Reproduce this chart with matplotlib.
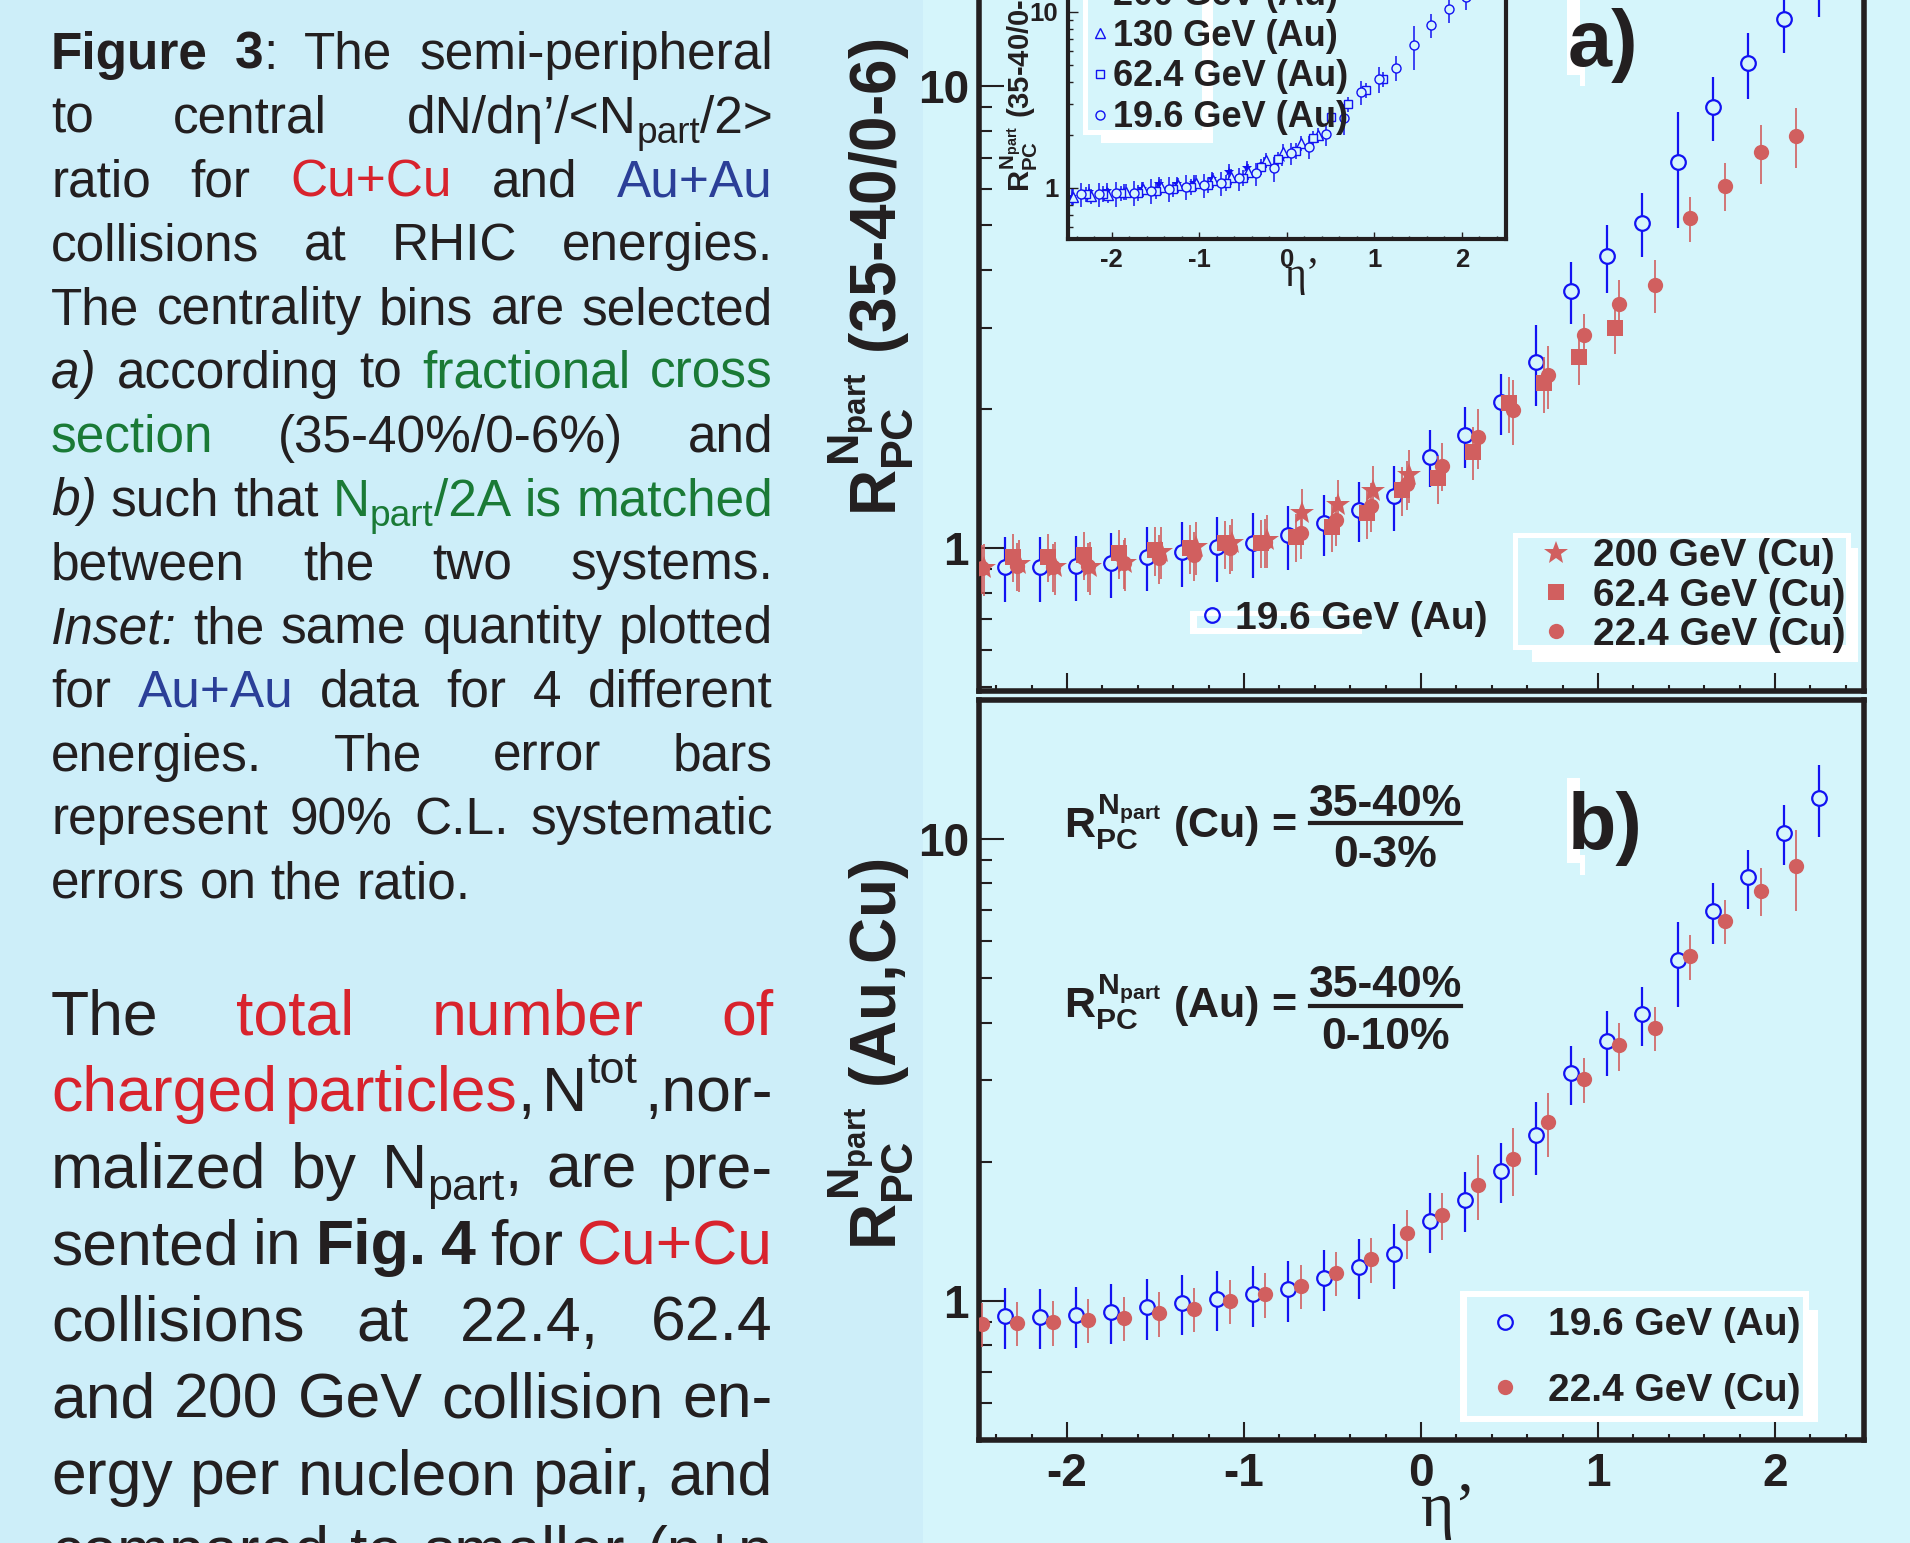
import re
import numpy as np
import matplotlib
matplotlib.use('Agg')
import matplotlib.pyplot as plt
import matplotlib.ticker as mticker
from matplotlib.transforms import Affine2D
from matplotlib.patches import Rectangle
from matplotlib.lines import Line2D

# ------------------------------------------------------------------ data
AU_ETA = [-2.35, -2.15, -1.95, -1.75, -1.55, -1.35, -1.15, -0.95, -0.75, -0.55, -0.35, -0.15,
          0.05, 0.25, 0.45, 0.65, 0.85, 1.05, 1.25, 1.45, 1.65, 1.85, 2.05, 2.25]
CU22_ETA = [-2.48, -2.28, -2.08, -1.88, -1.68, -1.48, -1.28, -1.08, -0.88, -0.68, -0.48, -0.28,
            -0.08, 0.12, 0.32, 0.52, 0.72, 0.92, 1.12, 1.32, 1.52, 1.72, 1.92, 2.12]
CU62_ETA = [-2.305, -2.105, -1.905, -1.705, -1.505, -1.305, -1.105, -0.905, -0.705, -0.505, -0.305,
            -0.105, 0.095, 0.295, 0.495, 0.695, 0.895, 1.095]
CU200_ETA = [-2.47, -2.27, -2.07, -1.87, -1.67, -1.47, -1.27, -1.07, -0.87, -0.67, -0.47, -0.27, -0.07]

# panel a) 35-40% / 0-6%
A_AU196 = [0.911, 0.911, 0.914, 0.929, 0.958, 0.979, 1.006, 1.027, 1.065, 1.131, 1.209, 1.294,
           1.577, 1.756, 2.067, 2.531, 3.606, 4.286, 5.058, 6.857, 9.02, 11.2, 14.0, 16.8]
A_AU196_RELERR = [0.16, 0.16, 0.16, 0.16, 0.16, 0.16, 0.16, 0.16, 0.16, 0.15, 0.15, 0.16,
                  0.14, 0.15, 0.15, 0.20, 0.155, 0.167, 0.158, 0.28, 0.158, 0.165, 0.157, 0.16]
A_CU22 = [0.905, 0.915, 0.91, 0.914, 0.928, 0.951, 0.965, 1.0, 1.03, 1.076, 1.150, 1.233,
          1.375, 1.507, 1.741, 1.990, 2.369, 2.891, 3.373, 3.71, 5.17, 6.09, 7.19, 7.81]
A_CU22_RELERR = [0.12, 0.12, 0.12, 0.12, 0.12, 0.12, 0.12, 0.12, 0.12, 0.12, 0.12, 0.12,
                 0.12, 0.12, 0.15, 0.16, 0.155, 0.11, 0.13, 0.13, 0.11, 0.12, 0.146, 0.15]
A_CU62 = [0.958, 0.958, 0.966, 0.974, 0.99, 1.0, 1.023, 1.027, 1.058, 1.112, 1.189, 1.335,
          1.415, 1.616, 2.057, 2.273, 2.587, 2.99]
A_CU62_RELERR = [0.12, 0.12, 0.12, 0.12, 0.12, 0.12, 0.12, 0.12, 0.12, 0.12, 0.12, 0.12,
                 0.12, 0.13, 0.14, 0.14, 0.13, 0.12]
A_CU200 = [0.904, 0.922, 0.911, 0.911, 0.929, 0.982, 1.006, 1.023, 1.041, 1.189, 1.239, 1.33, 1.439]
A_CU200_RELERR = [0.13, 0.13, 0.13, 0.13, 0.13, 0.13, 0.13, 0.13, 0.13, 0.13, 0.13, 0.13, 0.13]

# panel b) Npart/2A matched
B_AU196 = [0.927, 0.923, 0.930, 0.947, 0.968, 0.990, 1.010, 1.032, 1.060, 1.120, 1.185, 1.264,
           1.49, 1.654, 1.912, 2.284, 3.106, 3.654, 4.169, 5.465, 6.975, 8.25, 10.3, 12.27]
B_AU196_RELERR = [0.15, 0.15, 0.15, 0.15, 0.15, 0.15, 0.15, 0.15, 0.15, 0.15, 0.15, 0.16,
                  0.15, 0.15, 0.15, 0.18, 0.146, 0.16, 0.148, 0.21, 0.15, 0.146, 0.15, 0.177]
B_CU22 = [0.890, 0.896, 0.898, 0.908, 0.919, 0.939, 0.959, 1.0, 1.032, 1.076, 1.148, 1.229,
          1.40, 1.533, 1.78, 2.026, 2.433, 3.014, 3.571, 3.899, 5.567, 6.636, 7.717, 8.713]
B_CU22_RELERR = [0.11, 0.11, 0.11, 0.11, 0.11, 0.11, 0.11, 0.11, 0.11, 0.11, 0.11, 0.11,
                 0.12, 0.115, 0.16, 0.17, 0.16, 0.11, 0.12, 0.11, 0.11, 0.11, 0.12, 0.20]

# inset: Au+Au at four energies
AU62_ETA = [-2.3, -2.1, -1.9, -1.7, -1.5, -1.3, -1.1, -0.9, -0.7, -0.5, -0.3, -0.1,
            0.1, 0.3, 0.5, 0.7, 0.9, 1.1]
AU130_ETA = [-2.44, -2.24, -2.04, -1.84, -1.64, -1.44, -1.24, -1.04, -0.84, -0.64, -0.44, -0.24,
             -0.04, 0.16, 0.36]
AU200_ETA = [-2.46, -2.26, -2.06, -1.86, -1.66, -1.46, -1.26, -1.06, -0.86, -0.66, -0.46, -0.26, -0.06]
IN_AU196 = [0.925, 0.925, 0.933, 0.940, 0.965, 0.991, 1.017, 1.040, 1.067, 1.135, 1.211, 1.293,
            1.573, 1.714, 2.024, 2.484, 3.487, 4.133, 4.808, 6.467, 8.395, 10.34, 12.1, 14.5]
IN_AU62 = [0.925, 0.93, 0.935, 0.940, 0.965, 0.983, 1.017, 1.040, 1.072, 1.144, 1.320, 1.455,
           1.627, 1.913, 2.516, 2.994, 3.594, 4.133]
IN_AU130 = [0.893, 0.901, 0.913, 0.953, 0.983, 1.017, 1.040, 1.072, 1.110, 1.159, 1.238, 1.442,
            1.607, 1.792, 1.998]
IN_AU200 = [0.893, 0.953, 0.965, 0.953, 0.983, 1.054, 1.054, 1.072, 1.120, 1.238, 1.293, 1.368, 1.474]
IN_RELERR_OTHER = 0.10

LEG_A = ['200 GeV (Cu)', '62.4 GeV (Cu)', '22.4 GeV (Cu)']
LEG_A_AU = ['19.6 GeV (Au)']
LEG_B = ['19.6 GeV (Au)', '22.4 GeV (Cu)']
LEG_IN = ['200 GeV (Au)', '130 GeV (Au)', '62.4 GeV (Au)', '19.6 GeV (Au)']

PARA1 = [
    "{b|Figure} {b|3}: The semi-peripheral",
    "to central dN/d\u03b7\u2019/<N{_|part}/2>",
    "ratio for {R|Cu+Cu} and {B|Au+Au}",
    "collisions at RHIC energies.",
    "The centrality bins are selected",
    "{i|a)} according to {G|fractional} {G|cross}",
    "{G|section} (35-40%/0-6%) and",
    "{i|b)} such that {G|N}{G_|part}{G|/2A} {G|is} {G|matched}",
    "between the two systems.",
    "{i|Inset:} the same quantity plotted",
    "for {B|Au+Au} data for 4 different",
    "energies. The error bars",
    "represent 90% C.L. systematic",
    "errors on the ratio.",
]
PARA2 = [
    "The {R|total} {R|number} {R|of}",
    "{R|charged} {R|particles}, N{^|tot} ,nor-",
    "malized by N{_|part}, are pre-",
    "sented in {b|Fig.} {b|4} for {R|Cu+Cu}",
    "collisions at 22.4, 62.4",
    "and 200 GeV collision en-",
    "ergy per nucleon pair, and",
    "compared to smaller (p+p",
]

# ------------------------------------------------------------------ style
plt.rcParams['axes.unicode_minus'] = False
plt.rcParams['font.family'] = ['Liberation Sans', 'DejaVu Sans']
plt.rcParams['font.weight'] = 'bold'
plt.rcParams['mathtext.fontset'] = 'custom'
plt.rcParams['mathtext.rm'] = 'Liberation Sans:bold'
plt.rcParams['mathtext.it'] = 'Liberation Sans:bold'
plt.rcParams['mathtext.bf'] = 'Liberation Sans:bold'
plt.rcParams['mathtext.sf'] = 'Liberation Sans:bold'

W, H, DPI = 1910, 1543, 100
LEFT_BG = '#cdeef9'
PLOT_BG = '#d5f5fb'
INK = '#231f20'
AU_BLUE = '#1212f2'
CU_RED = '#d15f5f'
TXT_RED = '#d8232d'
TXT_BLUE = '#2b3f98'
TXT_GREEN = '#1a7a36'

fig = plt.figure(figsize=(W / DPI, H / DPI), dpi=DPI, facecolor=LEFT_BG)
pix = Affine2D().scale(1.0 / W, -1.0 / H).translate(0.0, 1.0) + fig.transFigure
fig.add_artist(Rectangle((923, 0), W - 923, H, transform=pix, facecolor=PLOT_BG,
                         edgecolor='none', zorder=-10))


def add_axes_px(x0, x1, ytop, ybot):
    return fig.add_axes([x0 / W, 1 - ybot / H, (x1 - x0) / W, (ybot - ytop) / H])


def style_axes(ax, ylim, spine_w, xl, yl, tick_w, lab, xpad, ypad):
    ax.set_yscale('log')
    ax.set_xlim(-2.5, 2.5)
    ax.set_ylim(*ylim)
    ax.set_facecolor('none')
    for s in ax.spines.values():
        s.set_linewidth(spine_w)
        s.set_color(INK)
    ax.xaxis.set_major_locator(mticker.MultipleLocator(1))
    ax.xaxis.set_minor_locator(mticker.MultipleLocator(0.2))
    ax.yaxis.set_major_locator(mticker.LogLocator(10, subs=(1.0,), numticks=20))
    ax.yaxis.set_minor_locator(mticker.LogLocator(10, subs=tuple(range(2, 10)), numticks=20))
    ax.yaxis.set_minor_formatter(mticker.NullFormatter())
    fmt = mticker.FuncFormatter(lambda v, p: '0' if abs(v) < 1e-9 else f'{v:g}')
    ax.xaxis.set_major_formatter(fmt)
    ax.yaxis.set_major_formatter(fmt)
    ax.tick_params(axis='x', which='major', direction='in', length=xl[0], width=tick_w,
                   labelsize=lab, pad=xpad, color=INK, labelcolor=INK)
    ax.tick_params(axis='x', which='minor', direction='in', length=xl[1], width=tick_w, color=INK)
    ax.tick_params(axis='y', which='major', direction='in', length=yl[0], width=tick_w,
                   labelsize=lab, pad=ypad, color=INK, labelcolor=INK)
    ax.tick_params(axis='y', which='minor', direction='in', length=yl[1], width=tick_w, color=INK)


def series(ax, x, y, rel, marker, ms, color, filled, mew, elw, z):
    y = np.asarray(y, dtype=float)
    err = y * np.asarray(rel, dtype=float)
    ax.errorbar(x, y, yerr=err, fmt=marker, ms=ms, mfc=(color if filled else PLOT_BG),
                mec=color, mew=mew, ecolor=color, elinewidth=elw, capsize=0, zorder=z)


def handle(marker, ms, color, filled, mew):
    return Line2D([], [], linestyle='none', marker=marker, ms=ms,
                  mfc=(color if filled else 'none'), mec=color, mew=mew)


def box(ax, x0, x1, y0, y1, color, z):
    ax.add_patch(Rectangle((x0, y0), x1 - x0, y1 - y0, transform=pix, facecolor=color,
                           edgecolor='none', zorder=z, clip_on=False))


LEGPROP = {'family': 'Liberation Sans', 'weight': 'bold', 'size': 28}

# ------------------------------------------------------------------ panel a
ax_a = add_axes_px(978.5, 1863.5, -53, 691)
style_axes(ax_a, (0.49, 20.0), 4.0, (13, 4.5), (18, 9), 1.5, 33, 9, 7)
ax_a.tick_params(labelbottom=False)
series(ax_a, AU_ETA, A_AU196, A_AU196_RELERR, 'o', 10.5, AU_BLUE, False, 1.6, 1.6, 2)
series(ax_a, CU62_ETA, A_CU62, A_CU62_RELERR, 's', 11, CU_RED, True, 0, 1.2, 3)
series(ax_a, CU200_ETA, A_CU200, A_CU200_RELERR, '*', 18, CU_RED, True, 0, 1.2, 3)
series(ax_a, CU22_ETA, A_CU22, A_CU22_RELERR, 'o', 11, CU_RED, True, 0, 1.2, 3)

box(ax_a, 1532, 1858, 548, 662, 'white', 4)
box(ax_a, 1513, 1851, 533, 650, 'white', 4.1)
box(ax_a, 1518, 1846, 538, 645, PLOT_BG, 4.2)
leg1 = ax_a.legend(handles=[handle('*', 18, CU_RED, True, 0), handle('s', 11, CU_RED, True, 0),
                            handle('o', 11, CU_RED, True, 0)], labels=LEG_A,
                   loc='center left', bbox_to_anchor=(1548, 595.5), bbox_transform=pix,
                   frameon=False, prop=LEGPROP, labelcolor=INK, handlelength=0.4,
                   handletextpad=0.75, labelspacing=0.08, borderpad=0, borderaxespad=0)
leg1.set_zorder(5)
ax_a.add_artist(leg1)
box(ax_a, 1190, 1362, 611, 634, 'white', 4)
box(ax_a, 1197, 1362, 616, 628, PLOT_BG, 4.1)
leg2 = ax_a.legend(handles=[handle('o', 10.5, AU_BLUE, False, 1.6)], labels=LEG_A_AU,
                   loc='center left', bbox_to_anchor=(1204, 619), bbox_transform=pix,
                   frameon=False, prop=LEGPROP, labelcolor=INK, handlelength=0.4,
                   handletextpad=0.4, borderpad=0, borderaxespad=0)
leg2.set_zorder(5)
box(ax_a, 1567, 1580, -5, 75, 'white', 4)
box(ax_a, 1580, 1585, 60, 86, 'white', 4)
ax_a.text(1568, 66, 'a)', transform=pix, fontsize=57, fontweight='bold', color=INK,
          ha='left', va='baseline', zorder=5)

# ------------------------------------------------------------------ panel b
ax_b = add_axes_px(978.5, 1863.5, 699.6, 1439.8)
style_axes(ax_b, (0.5, 20.0), 4.0, (13, 4.5), (18, 9), 1.5, 33, 9, 7)
series(ax_b, AU_ETA, B_AU196, B_AU196_RELERR, 'o', 10.5, AU_BLUE, False, 1.6, 1.6, 2)
series(ax_b, CU22_ETA, B_CU22, B_CU22_RELERR, 'o', 11, CU_RED, True, 0, 1.2, 3)
box(ax_b, 1809, 1818, 1310, 1422, 'white', 4)
box(ax_b, 1459.6, 1809, 1291, 1422, 'white', 4.1)
box(ax_b, 1466.5, 1803, 1297, 1416, PLOT_BG, 4.2)
legb = ax_b.legend(handles=[handle('o', 10.5, AU_BLUE, False, 1.6), handle('o', 11, CU_RED, True, 0)],
                   labels=LEG_B, loc='center left', bbox_to_anchor=(1497.6, 1358),
                   bbox_transform=pix, frameon=False, prop=LEGPROP, labelcolor=INK,
                   handlelength=0.4, handletextpad=0.9, labelspacing=0.76, borderpad=0,
                   borderaxespad=0)
legb.set_zorder(5)
box(ax_b, 1567, 1580, 778, 863, 'white', 4)
box(ax_b, 1580, 1585, 855, 875, 'white', 4)
ax_b.text(1568, 849, 'b)', transform=pix, fontsize=57, fontweight='bold', color=INK,
          ha='left', va='baseline', zorder=5)

# ratio definitions
for ybase, ynum, yline, yden, lab, den in [(838, 816, 823, 867, 'Cu', '0-3%'),
                                           (1019, 997, 1005.5, 1049, 'Au', '0-10%')]:
    fig.text(1064, ybase, r'$R_{PC}^{N_{part}}$ (' + lab + ') =', transform=pix, fontsize=31,
             fontweight='bold', color=INK, ha='left', va='baseline')
    fig.text(1385.5, ynum, '35-40%', transform=pix, fontsize=32, fontweight='bold', color=INK,
             ha='center', va='baseline')
    fig.text(1385.5, yden, den, transform=pix, fontsize=32, fontweight='bold', color=INK,
             ha='center', va='baseline')
    fig.add_artist(Line2D([1310, 1461], [yline, yline], transform=pix, lw=3, color=INK))

# ------------------------------------------------------------------ inset
ax_in = add_axes_px(1068, 1505.5, -42, 239)
ax_in.set_zorder(3)
style_axes(ax_in, (0.514, 20.1), 3.0, (5, 2.5), (7, 3.6), 1.0, 18.5, 6.5, 7)
series(ax_in, AU200_ETA, IN_AU200, [IN_RELERR_OTHER] * len(IN_AU200), '*', 8, AU_BLUE, True, 0, 1.1, 2)
series(ax_in, AU130_ETA, IN_AU130, [IN_RELERR_OTHER] * len(IN_AU130), '^', 6.5, AU_BLUE, False, 1.0, 1.1, 2)
series(ax_in, AU62_ETA, IN_AU62, [IN_RELERR_OTHER] * len(IN_AU62), 's', 6, AU_BLUE, False, 1.0, 1.1, 2)
series(ax_in, AU_ETA, IN_AU196, A_AU196_RELERR, 'o', 6.5, AU_BLUE, False, 1.0, 1.1, 2)
box(ax_in, 1083, 1213, -5, 135, 'white', 4)
box(ax_in, 1101, 1213, -5, 143, 'white', 4)
box(ax_in, 1088, 1202, -5, 130, PLOT_BG, 4.1)
legin = ax_in.legend(handles=[handle('*', 8, AU_BLUE, True, 0), handle('^', 6.5, AU_BLUE, False, 1.0),
                              handle('s', 6, AU_BLUE, False, 1.0), handle('o', 6.5, AU_BLUE, False, 1.0)],
                     labels=LEG_IN, loc='center left', bbox_to_anchor=(1094.6, 56.5),
                     bbox_transform=pix, frameon=False,
                     prop={'family': 'Liberation Sans', 'weight': 'bold', 'size': 26},
                     labelcolor=INK, handlelength=0.3, handletextpad=0.21, labelspacing=0.16,
                     borderpad=0, borderaxespad=0)
legin.set_zorder(5)

# axis titles
fig.text(871, 277, r'$R_{PC}^{N_{part}}$ (35-40/0-6)', transform=pix, rotation=90, fontsize=46,
         fontweight='bold', color=INK, ha='center', va='center')
fig.text(871, 1054, r'$R_{PC}^{N_{part}}$ (Au,Cu)', transform=pix, rotation=90, fontsize=46,
         fontweight='bold', color=INK, ha='center', va='center')
fig.text(1019, 192, r'$R_{PC}^{N_{part}}$ (35-40/0-6)', transform=pix, rotation=90, fontsize=21,
         fontweight='bold', color=INK, ha='center', va='bottom')
fig.text(1448, 1526, '\u03b7\u2019', transform=pix, fontsize=46, family='Liberation Serif',
         fontweight='normal', color=INK, ha='center', va='baseline')
fig.text(1302, 286, '\u03b7\u2019', transform=pix, fontsize=30, family='Liberation Serif',
         fontweight='normal', color=INK, ha='center', va='baseline')

# ------------------------------------------------------------------ left text column
TOKEN = re.compile(r'\{([^|}]*)\|([^}]*)\}|([^{]+)')


def parse_line(s):
    words = []
    for w in s.split(' '):
        runs = []
        for m in TOKEN.finditer(w):
            if m.group(3) is not None:
                runs.append((m.group(3), ''))
            else:
                runs.append((m.group(2), m.group(1)))
        words.append(runs)
    return words


def run_props(code, size):
    color = INK
    if 'R' in code:
        color = TXT_RED
    elif 'B' in code:
        color = TXT_BLUE
    elif 'G' in code:
        color = TXT_GREEN
    em = size * DPI / 72.0
    small = ('_' in code) or ('^' in code)
    shift = 0.2 * em if '_' in code else (-0.45 * em if '^' in code else 0.0)
    props = dict(color=color, fontweight='bold' if 'b' in code else 'normal',
                 fontstyle='italic' if 'i' in code else 'normal',
                 fontsize=size * 0.72 if small else size,
                 family=['Liberation Sans', 'DejaVu Sans'])
    return props, shift


def draw_paragraph(lines, x0, x1, y0, dy, size, justify_last):
    renderer = fig.canvas.get_renderer()
    n = len(lines)
    for i, s in enumerate(lines):
        items = []
        for runs in parse_line(s):
            rr = []
            for txt, code in runs:
                props, shift = run_props(code, size)
                t = fig.text(0, 0, txt, transform=pix, ha='left', va='baseline', **props)
                rr.append((t, t.get_window_extent(renderer).width, shift))
            items.append(rr)
        widths = [sum(w for _, w, _ in rr) for rr in items]
        if (i < n - 1 or justify_last) and len(items) > 1:
            gap = (x1 - x0 - sum(widths)) / (len(items) - 1)
        else:
            gap = 0.278 * size * DPI / 72.0
        x = x0
        y = y0 + i * dy
        for rr in items:
            for t, w, shift in rr:
                t.set_position((x, y + shift))
                x += w
            x += gap


draw_paragraph(PARA1, 51, 773, 68.9, 63.8, 37, False)
draw_paragraph(PARA2, 51, 773, 1034.5, 76.6, 45, True)

fig.savefig('out.png', dpi=DPI, facecolor=fig.get_facecolor())
